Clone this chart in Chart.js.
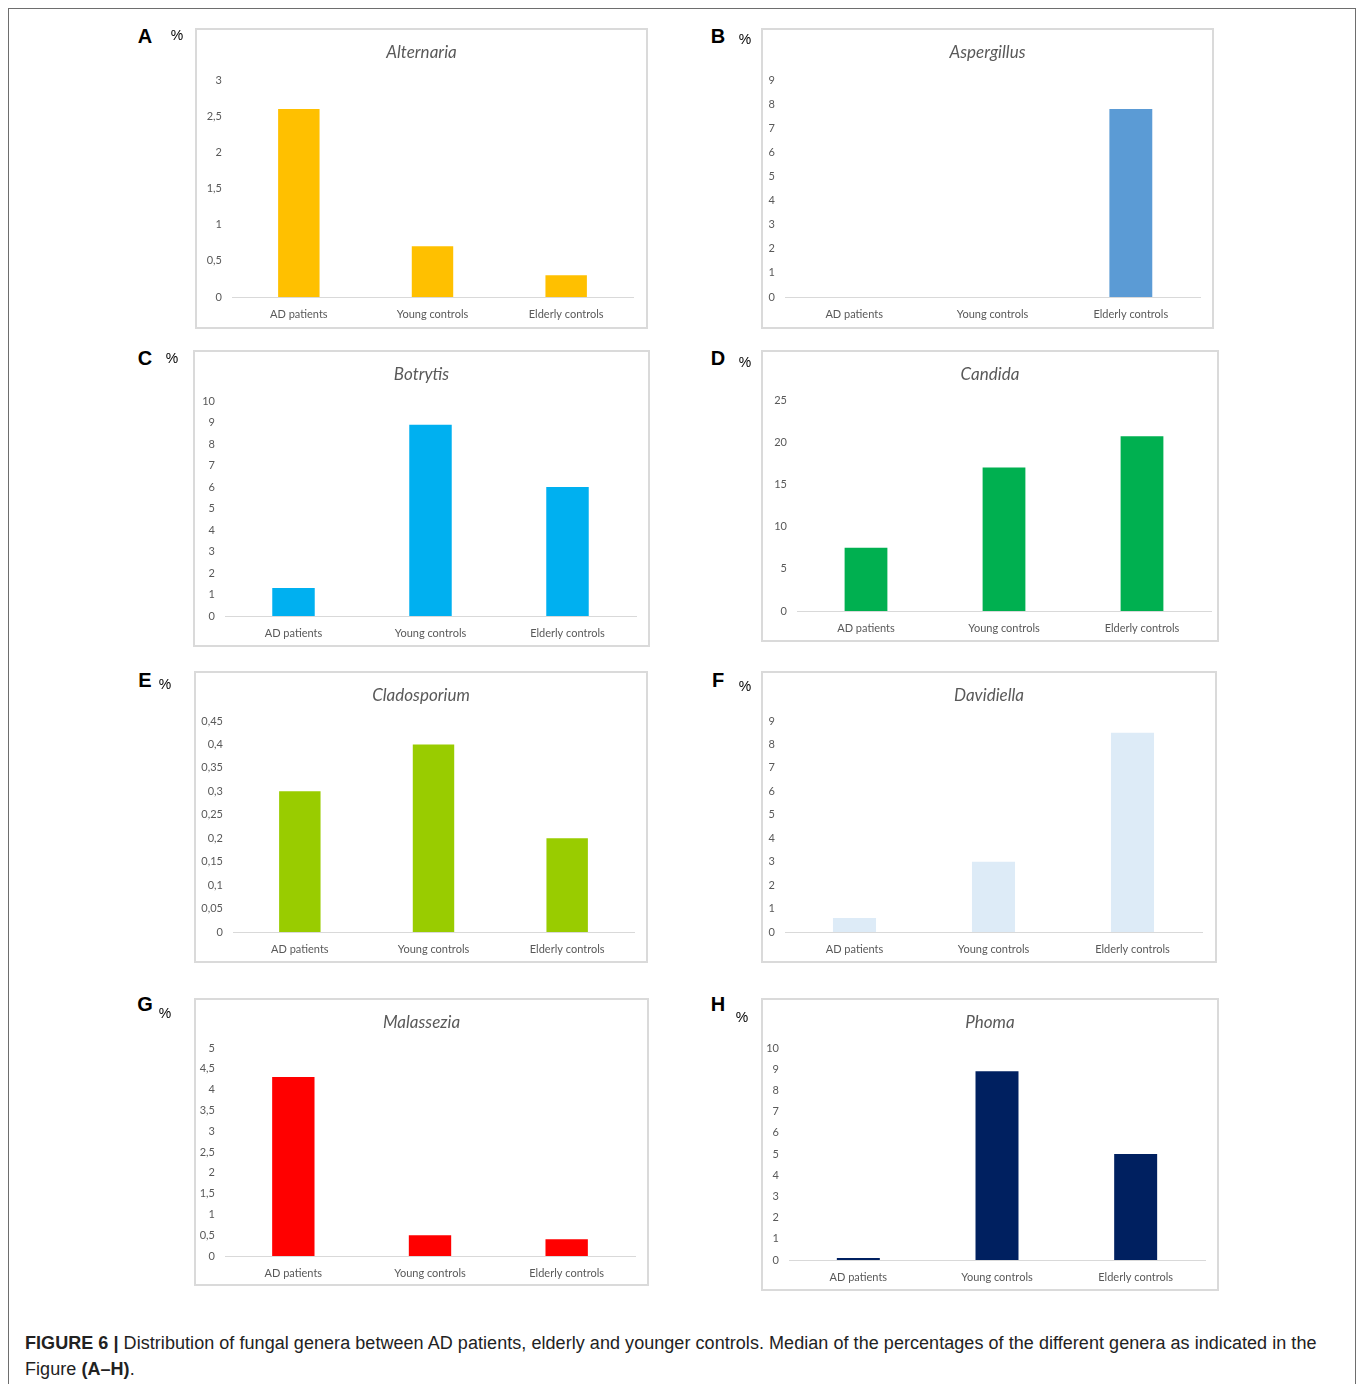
<!DOCTYPE html>
<html>
<head>
<meta charset="utf-8">
<script src="https://cdn.jsdelivr.net/npm/chart.js@4.4.1/dist/chart.umd.min.js"></script>
<style>
  body { margin: 0; background: #fff; width: 1358px; height: 1384px; overflow: hidden; position: relative; font-family: "Liberation Sans", Arial, sans-serif; }
  .frame { position: absolute; left: 8px; top: 8px; width: 1348px; height: 1400px; border: 1px solid #6e6e6e; box-sizing: border-box; }
  .box { position: absolute; border: 2px solid #dadada; box-sizing: border-box; }
  canvas { position: absolute; }
  .letter { position: absolute; font-weight: bold; font-size: 20px; color: #000; transform: translate(-50%, -50%); }
  .pct { position: absolute; font-size: 14px; color: #000; transform: translate(-50%, -50%); }
  .caption { position: absolute; left: 25px; top: 1330px; font-size: 18px; line-height: 26px; color: #222; white-space: nowrap; letter-spacing: 0.05px; }
</style>
</head>
<body>
<div class="frame"></div>
<div class="caption"><b>FIGURE 6 |</b> Distribution of fungal genera between AD patients, elderly and younger controls. Median of the percentages of the different genera as indicated in the<br>Figure <b>(A–H)</b>.</div>
<script>
const groups = ['AD patients', 'Young controls', 'Elderly controls']

// median % per genus
const alternaria = [2.6, 0.7, 0.3]
const aspergillus = [0, 0, 7.8]
const botrytis = [1.3, 8.9, 6.0]
const candida = [7.5, 17, 20.7]
const cladosporium = [0.3, 0.4, 0.2]
const davidiella = [0.6, 3.0, 8.5]
const malassezia = [4.3, 0.5, 0.4]
const phoma = [0.1, 8.9, 5.0]

const titles = ['Alternaria', 'Aspergillus', 'Botrytis', 'Candida', 'Cladosporium', 'Davidiella', 'Malassezia', 'Phoma']
const letters = ['A', 'B', 'C', 'D', 'E', 'F', 'G', 'H']
const yMax = [3, 9, 10, 25, 0.45, 9, 5, 10]
const yStep = [0.5, 1, 1, 5, 0.05, 1, 0.5, 1]
const series = [alternaria, aspergillus, botrytis, candida, cladosporium, davidiella, malassezia, phoma]
const colors = ['#FFC000', '#5B9BD5', '#00B0F0', '#00B050', '#99CC00', '#DDEBF7', '#FF0000', '#002060']

// panel frames [left, top, right, bottom] and plot area [axisLeft, axisRight, zeroY, maxY]
const boxes = [
    [195, 28, 648, 329], [761, 28, 1214, 329],
    [193, 350, 650, 647], [761, 350, 1219, 642],
    [194, 671, 648, 963], [761, 671, 1217, 963],
    [194, 998, 649, 1286], [761, 998, 1219, 1291]
]
const plots = [
    [232, 633, 297, 80], [785, 1200, 297, 80],
    [225, 636, 616, 401], [797, 1211, 611, 400],
    [233, 634, 932, 721], [785, 1202, 932, 721],
    [225, 635, 1256, 1048], [789, 1205, 1260, 1048]
]
const letterPos = [[145, 36], [718, 36], [145, 358], [718, 358], [145, 680], [718, 680], [145, 1004], [718, 1004]]
const pctPos = [[177, 35], [745, 39], [172, 358], [745, 362], [165, 684], [745, 686], [165, 1013], [742, 1017]]

const font = 'Lato, "Open Sans", sans-serif'
const grey = '#595959'

function addEl(cls, text, x, y) {
    const el = document.createElement('div')
    el.className = cls
    el.textContent = text
    el.style.left = x + 'px'
    el.style.top = y + 'px'
    document.body.appendChild(el)
}

// centre the title on the panel frame rather than on the padded area
const centerTitle = {
    id: 'centerTitle',
    afterLayout(chart, args, opts) {
        if (chart.titleBlock) {
            chart.titleBlock.left = opts.left
            chart.titleBlock.right = opts.right
            chart.titleBlock.width = opts.right - opts.left
        }
    }
}

series.forEach((values, i) => {
    const [bl, bt, br, bb] = boxes[i]
    const [al, ar, zy, my] = plots[i]
    const w = br - bl, h = bb - bt
    const ext = 20
    const cl = bl - ext

    const frame = document.createElement('div')
    frame.className = 'box'
    Object.assign(frame.style, {left: bl + 'px', top: bt + 'px', width: w + 'px', height: h + 'px'})
    document.body.appendChild(frame)

    const canvas = document.createElement('canvas')
    canvas.width = w + ext
    canvas.height = h
    canvas.style.left = cl + 'px'
    canvas.style.top = bt + 'px'
    document.body.appendChild(canvas)

    addEl('letter', letters[i], letterPos[i][0], letterPos[i][1])
    addEl('pct', '%', pctPos[i][0], pctPos[i][1])

    const yW = 36
    const titleSize = 17
    const titleTop = 25 - titleSize * 0.6
    const titleBottom = (my - bt) - titleTop - titleSize * 1.2
    const xH = h - (zy - bt)

    new Chart(canvas, {
        type: 'bar',
        data: {
            labels: groups,
            datasets: [{
                data: values,
                backgroundColor: colors[i],
                barPercentage: 0.31,
                categoryPercentage: 1
            }]
        },
        plugins: [centerTitle],
        options: {
            responsive: false,
            animation: false,
            devicePixelRatio: 1,
            layout: {padding: {left: al - cl - yW, right: br - ar, top: 0, bottom: 0}},
            plugins: {
                legend: {display: false},
                tooltip: {enabled: false},
                centerTitle: {left: bl - cl, right: br - cl},
                title: {
                    display: true,
                    text: titles[i],
                    color: grey,
                    font: {family: font, size: titleSize, style: 'italic', weight: 'normal'},
                    padding: {top: titleTop, bottom: titleBottom}
                }
            },
            scales: {
                x: {
                    grid: {display: false, drawTicks: false},
                    border: {display: true, color: '#d9d9d9', width: 1},
                    ticks: {color: grey, font: {family: font, size: 11}, padding: 11, maxRotation: 0},
                    afterFit: (scale) => { scale.height = xH }
                },
                y: {
                    min: 0,
                    max: yMax[i],
                    grid: {display: false, drawTicks: false},
                    border: {display: false},
                    ticks: {
                        stepSize: yStep[i],
                        color: grey,
                        font: {family: font, size: 11},
                        padding: 10,
                        callback: (v) => String(Math.round(v * 100) / 100).replace('.', ',')
                    },
                    afterFit: (scale) => { scale.width = yW }
                }
            }
        }
    })
})
</script>
</body>
</html>
